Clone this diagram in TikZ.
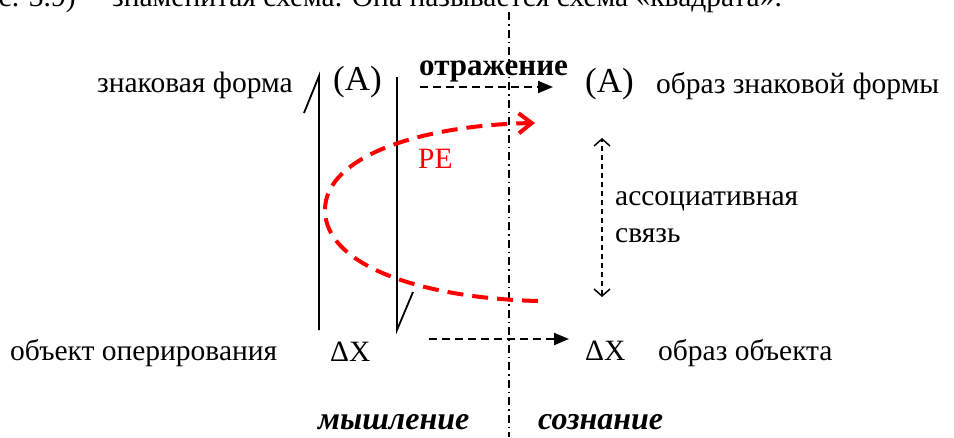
\documentclass[tikz,border=0pt]{standalone}
\usepackage{fontspec}
\setmainfont{Liberation Serif}
\usetikzlibrary{arrows.meta}
\begin{document}
\begin{tikzpicture}[x=1pt,y=-1pt,
  lbl/.style={inner sep=0pt, anchor=base west, font=\fontsize{29.5}{34}\selectfont},
  big/.style={inner sep=0pt, anchor=base west, font=\fontsize{35}{40}\selectfont},
  bold/.style={lbl, font=\bfseries\fontsize{31}{36}\selectfont},
  bolditalic/.style={lbl, font=\bfseries\itshape\fontsize{32}{36}\selectfont},
  bline/.style={line width=1.8pt},
  dasharrow/.style={line width=2pt, dash pattern=on 8pt off 5pt, -{Triangle[length=15pt,width=12pt]}},
  assoc/.style={line width=1.3pt, dash pattern=on 5pt off 4pt, {Straight Barb[length=7pt,width=16pt,line width=1.5pt]}-{Straight Barb[length=7pt,width=16pt,line width=1.5pt]}},
  dashdot/.style={line width=1.5pt, dash pattern=on 8pt off 4pt on 1.5pt off 4pt},
  redcurve/.style={red, line width=4pt, dash pattern=on 16pt off 9pt, -{Straight Barb[length=13pt,width=20pt,line width=4pt]}}
]
\useasboundingbox (0,0) rectangle (954,437);
\begin{scope}
\clip (0,0) rectangle (954,437);
\node[lbl, anchor=base east] (cap1) at (98,6) {(рис. 3.9) –};
\node[lbl] (cap2) at (112,6) {знаменитая схема. Она называется схема «квадрата».};
\end{scope}

% vertical separator
\coordinate (sepT) at (509,12);
\coordinate (sepB) at (509,437);
\draw[dashdot] (sepT) -- (sepB);

% brackets
\coordinate (L1s) at (304,113);
\coordinate (L1t) at (319,76);
\coordinate (L1b) at (319,330);
\draw[bline] (L1s) -- (L1t) -- (L1b);
\coordinate (R1t) at (397,77);
\coordinate (R1b) at (397,330);
\coordinate (R1s) at (413,292);
\draw[bline] (R1t) -- (R1b) -- (R1s);

% labels
\node[lbl] (zf) at (97,92) {знаковая форма};
\node[big] (A1) at (333,90) {(A)};
\node[bold] (otr) at (419,75) {отражение};
\node[big] (A2) at (585,92) {(A)};
\node[lbl] (ozf) at (656,93) {образ знаковой формы};
\node[lbl, text=red] (pe) at (418,168) {РЕ};
\node[lbl] (as1) at (615,205) {ассоциативная};
\node[lbl] (as2) at (615,242) {связь};
\node[lbl] (obj) at (10,360) {объект оперирования};
\node[lbl] (dx1) at (330,361) {ΔX};
\node[lbl] (dx2) at (585,360) {ΔX};
\node[lbl] (oobj) at (658,360) {образ объекта};
\node[bolditalic] (mysh) at (318,429) {мышление};
\node[bolditalic] (sozn) at (538,429) {сознание};

% arrows
\coordinate (ta1) at (420,87);
\coordinate (ta2) at (553,87);
\draw[dasharrow] (ta1) -- (ta2);
\coordinate (ba1) at (429,339);
\coordinate (ba2) at (569,339);
\draw[dasharrow] (ba1) -- (ba2);
\coordinate (as_t) at (602,138);
\coordinate (as_b) at (602,297);
\draw[assoc] (as_b) -- (as_t);

% red curve
\coordinate (rc1) at (538,301);
\coordinate (rcm) at (325,210);
\coordinate (rc2) at (535,123);
\draw[redcurve] (rc1) .. controls (420,298) and (325,265) .. (rcm) .. controls (325,155) and (425,125) .. (rc2);
\end{tikzpicture}
\end{document}
